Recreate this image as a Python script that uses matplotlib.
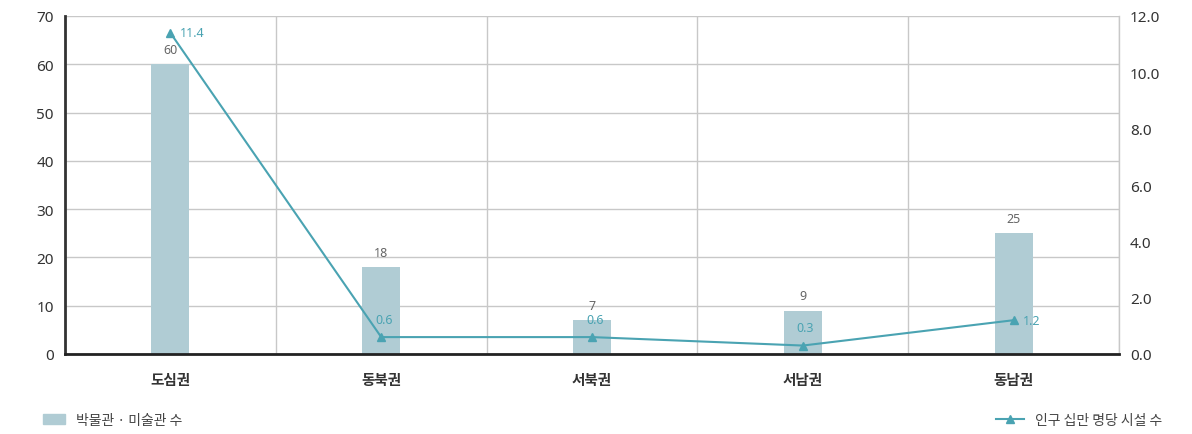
import matplotlib
matplotlib.use("Agg")
import matplotlib.pyplot as plt
import numpy as np
from matplotlib.patches import Patch
from matplotlib.lines import Line2D

plt.rcParams['font.family'] = ['Noto Sans', 'Noto Sans CJK KR', 'DejaVu Sans']

categories = ['도심권', '동북권', '서북권', '서남권', '동남권']
museums = [60, 18, 7, 9, 25]
per_100k = [11.4, 0.6, 0.6, 0.3, 1.2]
left_ticks = [0, 10, 20, 30, 40, 50, 60, 70]
right_ticks = [0.0, 2.0, 4.0, 6.0, 8.0, 10.0, 12.0]

bar_color = '#b0ccd4'
line_color = '#4aa3b2'
grid_color = '#c8c8c8'
kr = ['Noto Sans CJK KR', 'DejaVu Sans']

fig = plt.figure(figsize=(11.92, 4.35), dpi=100)
ax = fig.add_axes([65/1192, 1-355/435, (1119-65)/1192, (355-17)/435])
x = np.arange(len(categories))
ax.bar(x, museums, width=0.18, color=bar_color, zorder=2)
ax.set_xlim(-0.5, len(categories)-0.5)
ax.set_ylim(0, 70)
ax.set_yticks(left_ticks)
ax.set_yticklabels([str(t) for t in left_ticks], fontsize=11, color='#333333')
ax.set_xticks(x)
ax.set_xticklabels(categories, fontsize=10.5, fontweight='bold', color='#333333', family=kr)
ax.set_xticks(np.arange(len(categories)+1)-0.5, minor=True)
ax.tick_params(axis='x', which='both', length=0, pad=12)
ax.tick_params(axis='y', length=0, pad=8)
ax.grid(axis='y', color=grid_color, linewidth=1, zorder=0)
ax.grid(axis='x', which='minor', color=grid_color, linewidth=1, zorder=0)
ax.grid(axis='x', which='major', visible=False)
ax.spines['top'].set_visible(False)
ax.spines['right'].set_color(grid_color)
ax.spines['right'].set_linewidth(1)
ax.spines['left'].set_color('#333333')
ax.spines['left'].set_linewidth(2)
ax.spines['bottom'].set_color('#222222')
ax.spines['bottom'].set_linewidth(2)
ax.spines['left'].set_zorder(5)
ax.spines['bottom'].set_zorder(5)

for xi, v in zip(x, museums):
    ax.annotate(str(v), (xi, v), xytext=(0, 6), textcoords='offset points',
                ha='center', va='bottom', fontsize=9, color='#666666')

ax2 = ax.twinx()
ax2.set_ylim(0, 12)
ax2.set_yticks(right_ticks)
ax2.set_yticklabels([f'{t:.1f}' for t in right_ticks], fontsize=11, color='#333333')
ax2.tick_params(axis='y', length=0, pad=8)
for s in ['top', 'right', 'left', 'bottom']:
    ax2.spines[s].set_visible(False)
ax2.plot(x, per_100k, color=line_color, linewidth=1.5, marker='^', markersize=6, zorder=4)
for xi, v in zip(x, per_100k):
    if v > 5 or xi == 4:
        ax2.annotate(f'{v}', (xi, v), xytext=(7, 0), textcoords='offset points',
                     ha='left', va='center', fontsize=9, color=line_color)
    else:
        ax2.annotate(f'{v}', (xi, v), xytext=(2, 8), textcoords='offset points',
                     ha='center', va='bottom', fontsize=9, color=line_color)

fig.legend(handles=[Patch(color=bar_color)], labels=['박물관 · 미술관 수'],
           loc='center left', bbox_to_anchor=(30/1192, 1-421/435), frameon=False,
           fontsize=10, handlelength=1.6, handleheight=0.8, labelcolor='#444444',
           prop={'family': kr, 'size': 10})
fig.legend(handles=[Line2D([], [], color=line_color, marker='^', markersize=6, linewidth=1.5)],
           labels=['인구 십만 명당 시설 수'],
           loc='center right', bbox_to_anchor=(1175/1192, 1-421/435), frameon=False,
           handlelength=2.0, labelcolor='#444444',
           prop={'family': kr, 'size': 10})

fig.savefig('out.png', dpi=100)
